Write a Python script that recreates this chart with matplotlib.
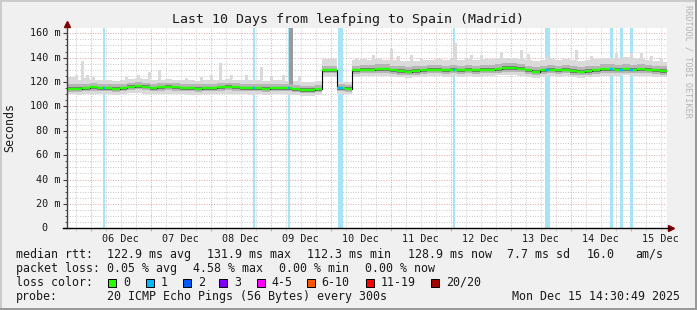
import numpy as np
import matplotlib.pyplot as plt
from matplotlib.patches import Rectangle

plt.rcParams["font.family"] = "DejaVu Sans Mono"

# 3-hour bins over the last 10 days (hours since Dec 5 14:30)
bin_hours = 3
median = [
    114.5, 114.5, 115, 115.5, 115, 115, 114.5, 115, 116, 116.5,
    116, 115, 115.5, 116, 115.5, 115, 115, 114.5, 115, 115,
    115.5, 116, 115.5, 115, 115, 115, 114.5, 115, 115, 115,
    114, 113.5, 113.5, 114,
    129.5, 129.5,
    115, 114.5,
    129.5, 130, 130, 130.5, 130.5, 129.5, 129, 128.5, 129, 129.5,
    130, 130, 129.5, 130, 129.5, 130, 129.5, 130, 130, 130.5,
    131.5, 131.5, 131, 129.5, 128.5, 129.5, 130, 129.5, 130, 129,
    128.5, 129, 129.5, 130.5, 130.5, 130, 130.5, 130, 130.5, 130,
    129.5, 129,
]
smoke_lo = [
    110, 109.5, 110, 110, 110, 110, 109.5, 110, 111, 111,
    110.5, 110, 110, 110.5, 110, 110, 109.5, 109.5, 110, 110,
    110, 110.5, 110, 110, 109.5, 110, 109.5, 110, 110, 109.5,
    109, 108.5, 108.5, 109,
    124, 124.5,
    110, 110,
    124.5, 125, 125, 125, 125, 124.5, 124, 123.5, 124, 124.5,
    125, 125, 124.5, 125, 124.5, 125, 124.5, 125, 125, 126,
    126, 125.5, 125, 124, 123.5, 124.5, 125, 124.5, 125, 124,
    123.5, 124, 124.5, 125, 125, 125, 125.5, 125, 125, 125,
    124.5, 124,
]
smoke_hi = [
    124, 122, 123, 122, 121.5, 121.5, 121, 121.5, 122.5, 123,
    122.5, 122, 122, 122.5, 122, 121.5, 121.5, 121, 121.5, 121.5,
    122, 122.5, 122, 121.5, 121.5, 121.5, 121, 121.5, 121.5, 121,
    120.5, 120, 120, 120.5,
    139, 139,
    120, 120,
    138, 138.5, 138, 138.5, 138, 138, 137.5, 137, 137.5, 138,
    138, 138.5, 138, 138.5, 138, 139, 138, 138.5, 139, 140,
    140, 139.5, 139, 138, 137.5, 138, 138.5, 138, 138.5, 138,
    137.5, 138, 138.5, 139.5, 140, 140, 140.5, 139.5, 139, 138,
    137, 136.5,
]
core_lo = [
    112, 112, 112.5, 113, 112.5, 112.5, 112, 112.5, 113.5, 114,
    113.5, 112.5, 113, 113.5, 113, 112.5, 112.5, 112, 112.5, 112.5,
    113, 113.5, 113, 112.5, 112.5, 112.5, 112, 112.5, 112.5, 112.5,
    111.5, 111, 111, 111.5,
    127, 127,
    112.5, 112,
    126.5, 127, 127, 127.5, 127.5, 126.5, 126, 125.5, 126, 126.5,
    127, 127, 126.5, 127, 126.5, 127, 126.5, 127, 127, 127.5,
    128.5, 128.5, 128, 126.5, 125.5, 126.5, 127, 126.5, 127, 126,
    125.5, 126, 126.5, 127.5, 127.5, 127, 127.5, 127, 127.5, 127,
    126.5, 126,
]
core_hi = [
    118, 118, 118.5, 119, 118.5, 118.5, 118, 118.5, 119.5, 120,
    119.5, 118.5, 119, 119.5, 119, 118.5, 118.5, 118, 118.5, 118.5,
    119, 119.5, 119, 118.5, 118.5, 118.5, 118, 118.5, 118.5, 118.5,
    117.5, 117, 117, 117.5,
    133.5, 133.5,
    118, 117.5,
    133.5, 134, 134, 134.5, 134.5, 133.5, 133, 132.5, 133, 133.5,
    134, 134, 133.5, 134, 133.5, 134, 133.5, 134, 134, 134.5,
    135.5, 135.5, 135, 133.5, 132.5, 133.5, 134, 133.5, 134, 133,
    132.5, 133, 133.5, 134.5, 134.5, 134, 134.5, 134, 134.5, 134,
    133.5, 133,
]

# isolated high pings (hour, top in ms)
spike_hours = [3.2, 5.6, 7.6, 10.0, 17.6, 23.2, 28, 32.4, 36.4, 39.2, 43.6,
               47.2, 53.2, 57.2, 60.8, 65.2, 68.0, 71.2, 77.2, 81.2, 86.0, 92.4,
               115.2, 122.0, 129.2, 132, 137.2, 141.2, 154.8, 161.2, 165.2,
               173.2, 181.2, 184.0, 191.2, 203.2, 209.2, 219.2, 225.2, 229.2, 233.2, 237.2]
spike_tops = [125.5, 137, 126, 124, 121.5, 124, 125.5, 128, 129.5, 122.5, 122,
              123.5, 124.5, 125.5, 136, 125.5, 122, 125.5, 132.5, 124.5, 125.5, 125,
              140, 142, 147, 141, 142, 139.5, 152, 142, 142,
              145, 146, 143, 142, 146, 141, 143.5, 143.5, 143.5, 141.5, 140]
big_spike = (88.6, 117, 164.3)   # hour, from, to

# packet loss periods (start hour, length hours)
loss_start = [14.4, 74.4, 88.4, 108.4, 154.4, 191.2, 217.2, 221.2, 225.2]
loss_len = [0.8, 0.8, 0.8, 2.0, 0.8, 2.0, 1.3, 1.3, 1.3]

day_labels = ["06 Dec", "07 Dec", "08 Dec", "09 Dec", "10 Dec",
              "11 Dec", "12 Dec", "13 Dec", "14 Dec", "15 Dec"]
first_midnight = 9.5
y_ticks = [0, 20, 40, 60, 80, 100, 120, 140, 160]

loss_names = ["0", "1", "2", "3", "4-5", "6-10", "11-19", "20/20"]
loss_colors = ["#26ff00", "#00b8ff", "#0059ff", "#7e00ff",
               "#ff00ff", "#ff5500", "#ff0000", "#a10000"]

W, H = 697, 310
fig = plt.figure(figsize=(W / 100, H / 100), dpi=100, facecolor="#f0f0f0")
ax = fig.add_axes([67 / W, 1 - 228.3 / H, 600 / W, 200.3 / H])
ax.set_facecolor("white")
ymax = 164.3
ax.set_xlim(0, 240)
ax.set_ylim(0, ymax)
for s in ax.spines.values():
    s.set_visible(False)

# grid
dots = (0, (1, 1.6))
for y in np.arange(5, 165, 5):
    if y % 20:
        ax.axhline(y, color="#c8c8c8", lw=0.7, ls=dots, zorder=0)
for y in y_ticks[1:]:
    ax.axhline(y, color="#e8a0a0", lw=0.7, ls=dots, zorder=0)
for i in range(40):
    h = first_midnight - 6 + 6 * i
    if (i - 1) % 4:
        ax.axvline(h, color="#c8c8c8", lw=0.7, ls=dots, zorder=0)
for i in range(10):
    ax.axvline(first_midnight + 24 * i, color="#e8a0a0", lw=0.7, ls=dots, zorder=0)

# loss background bars
for s, l in zip(loss_start, loss_len):
    ax.axvspan(s, s + l, color="#a8e4f8", lw=0, zorder=1)

# smoke
n = len(median)
edges = np.arange(n + 1) * bin_hours
ext = lambda a: np.r_[a, a[-1]]
light = "#dadada"
ax.fill_between(edges, ext(smoke_lo), ext(smoke_hi), step="post",
                color=light, lw=0, zorder=2)
for h, top in zip(spike_hours, spike_tops):
    i = int(h // bin_hours)
    ax.bar(h, top - smoke_hi[i], bottom=smoke_hi[i], width=1.2,
           align="edge", color=light, lw=0, zorder=2)
ax.bar(big_spike[0], big_spike[2] - big_spike[1], bottom=big_spike[1], width=1.6,
       align="edge", color="#9a9a9a", lw=0, zorder=2)
ax.fill_between(edges, ext(core_lo), ext(core_hi), step="post",
                color="#b6b6b6", lw=0, zorder=2)
med = np.array(median)
ax.fill_between(edges, ext(med - 1.3), ext(med + 1.3), step="post",
                color="#777777", lw=0, zorder=2)

# median line
ax.step(edges, ext(median), where="post", color="black", lw=0.8, zorder=3)
ax.hlines(median, edges[:-1], edges[1:], colors=loss_colors[0], lw=1.7, zorder=4)
for s, l in zip(loss_start, loss_len):
    i = int(s // bin_hours)
    ax.hlines(median[i], s, s + l, colors=loss_colors[1], lw=1.7, zorder=5)

# axes lines and arrows
ax.plot([0, 0], [0, 1.0], transform=ax.transAxes, color="#404040", lw=1, clip_on=False, zorder=6)
ax.plot([-0.007, 1.003], [0, 0], transform=ax.transAxes, color="black", lw=1, clip_on=False, zorder=6)
ax.plot([0], [1.02], marker="^", ms=4, color="#7f0000", transform=ax.transAxes, clip_on=False)
ax.plot([1.007], [0], marker=">", ms=4, color="#7f0000", transform=ax.transAxes, clip_on=False)

# ticks
ax.set_yticks(y_ticks)
ax.set_yticks(np.arange(0, 165, 5), minor=True)
ax.set_xticks([first_midnight + 24 * i for i in range(10)])
ax.set_xticks([first_midnight - 6 + 6 * i for i in range(41) if first_midnight - 6 + 6 * i < 240], minor=True)
ax.tick_params(axis="y", which="major", length=3, color="#404040", labelleft=False)
ax.tick_params(axis="y", which="minor", length=1.5, color="#404040")
ax.tick_params(axis="x", which="major", length=2, color="#e8a0a0", labelbottom=False)
ax.tick_params(axis="x", which="minor", length=2, color="#c8c8c8")

tick_fs = 7.3
for v in y_ticks:
    lab = "0" if v == 0 else f"{v} m"
    xpos = 47 if v == 0 else 60.5
    ax.text(xpos / W, v, lab, transform=ax.get_yaxis_transform().__class__(fig.transFigure, ax.transData),
            ha="right", va="center", fontsize=tick_fs, color="#1a1a1a")
for i, lab in enumerate(day_labels):
    ax.text(first_midnight + 12 + 24 * i, -10.3 * ymax / 200.3, lab, ha="center", va="center",
            fontsize=tick_fs, color="#1a1a1a", clip_on=False)

# titles and side texts
fig.text(347.5 / W, 1 - 19 / H, "Last 10 Days from leafping to Spain (Madrid)",
         ha="center", va="center", fontsize=9.5, color="#1a1a1a")
fig.text(10 / W, 1 - 127 / H, "Seconds", rotation=90, ha="center", va="center",
         fontsize=8.4, color="#1a1a1a")
fig.text(688 / W, 1 - 5 / H, "RRDTOOL / TOBI OETIKER", rotation=270, ha="center", va="top",
         fontsize=6.1, color="#b4b4b4")

# legend
leg_fs = 8.4
def put(x, y, s, **kw):
    fig.text(x / W, 1 - y / H, s, ha=kw.pop("ha", "left"), va="center",
             fontsize=leg_fs, color="#1a1a1a", **kw)

rows = [
    (254.3, [(16, "median rtt:"), (107.3, "122.9 ms avg"), (207.3, "131.9 ms max"),
             (306.7, "112.3 ms min"), (407.7, "128.9 ms now"), (506.7, "7.7 ms sd"),
             (586.7, "16.0"), (635, "am/s")]),
    (268.3, [(16, "packet loss:"), (107.3, "0.05 % avg"), (192.7, "4.58 % max"),
             (279, "0.00 % min"), (365, "0.00 % now")]),
    (282.3, [(16, "loss color:")]),
    (296.3, [(16, "probe:"), (107.3, "20 ICMP Echo Pings (56 Bytes) every 300s")]),
]
for y, items in rows:
    for x, s in items:
        put(x, y, s)
put(680, 296.3, "Mon Dec 15 14:30:49 2025", ha="right")

box_x = [108.3, 145.7, 182.7, 219.3, 256.7, 306.7, 365.7, 430.7]
for bx, name, col in zip(box_x, loss_names, loss_colors):
    fig.add_artist(Rectangle((bx / W, 1 - 286.5 / H), 8 / W, 8 / H, transform=fig.transFigure,
                             facecolor=col, edgecolor="black", lw=0.7))
    put(bx + 15, 282.3, name)

# 3d frame
def frame(x, y, w, h, c):
    fig.add_artist(Rectangle((x / W, 1 - (y + h) / H), w / W, h / H, transform=fig.transFigure,
                             facecolor=c, edgecolor="none", lw=0))
frame(0, 0, W, 2, "#cbcbcb")
frame(0, 0, 2, H, "#cbcbcb")
frame(0, H - 2, W, 2, "#999999")
frame(W - 2, 0, 2, H, "#999999")

fig.savefig("out.png", dpi=100, facecolor=fig.get_facecolor())
